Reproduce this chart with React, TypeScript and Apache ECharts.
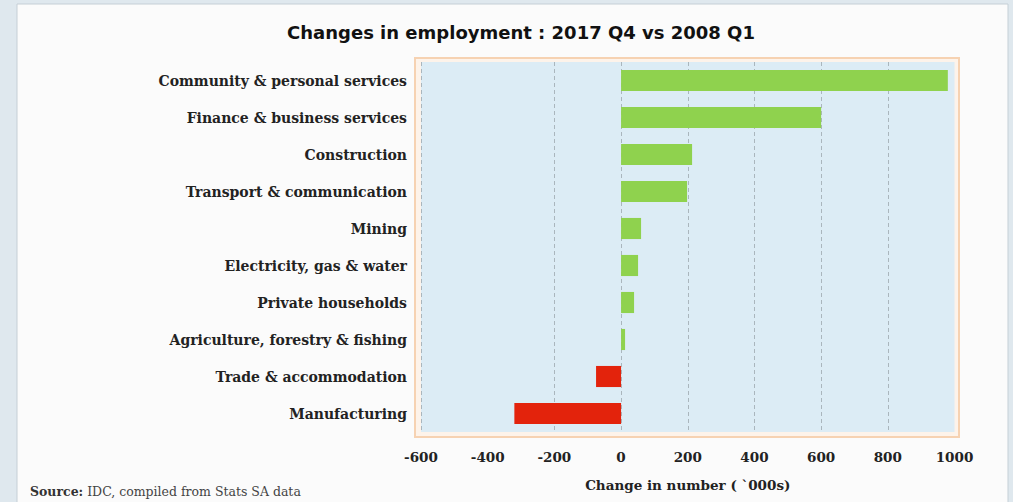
import React, { useEffect, useRef } from "react";
import * as echarts from "echarts";

const categories = [
  "Community & personal services",
  "Finance & business services",
  "Construction",
  "Transport & communication",
  "Mining",
  "Electricity, gas & water",
  "Private households",
  "Agriculture, forestry & fishing",
  "Trade & accommodation",
  "Manufacturing",
];
const changes = [980, 600, 213, 198, 60, 51, 39, 12, -75, -320];
const xTicks = { min: -600, max: 1000, interval: 200 };
const titleText = "Changes in employment : 2017 Q4 vs 2008 Q1";
const axisName = "Change in number ( `000s)";
const sourceLabel = "Source";
const sourceText = " IDC, compiled from Stats SA data";

const GREEN = "#8fd24e";
const RED = "#e3230c";

export default function App() {
  const ref = useRef<HTMLDivElement>(null);
  useEffect(() => {
    if (!ref.current) return;
    const chart = echarts.init(ref.current, undefined, { renderer: "svg" });
    const serif = "DejaVu Serif";
    const grid = "#aab6bd";
    chart.setOption({
      animation: false,
      backgroundColor: "#dfe8ee",
      title: {
        text: titleText,
        left: 516,
        textAlign: "center",
        top: 18,
        textStyle: {
          fontFamily: "DejaVu Sans",
          fontWeight: "bold",
          fontSize: 18,
          color: "#111",
        },
      },
      graphic: [
        {
          type: "rect",
          z: -10,
          shape: { x: 17, y: 4, width: 991, height: 500 },
          style: { fill: "#fbfbfb", stroke: "#c5cfd6", lineWidth: 1 },
        },
        {
          type: "rect",
          z: -5,
          shape: { x: 415, y: 58, width: 544, height: 379 },
          style: { fill: "#fdf3ea", stroke: "#f6d2b2", lineWidth: 2 },
        },
        {
          type: "text",
          left: 30,
          top: 485,
          style: {
            text: "{b|" + sourceLabel + ":}{n|" + sourceText + "}",
            rich: {
              b: { fontFamily: serif, fontSize: 12.5, fontWeight: "bold", fill: "#333" },
              n: { fontFamily: serif, fontSize: 12.5, fill: "#444" },
            },
          },
        },
      ],
      grid: {
        left: 421,
        right: 58.5,
        top: 62,
        bottom: 70,
        show: true,
        backgroundColor: "#dcecf5",
        borderWidth: 0,
      },
      xAxis: {
        type: "value",
        min: xTicks.min,
        max: xTicks.max,
        interval: xTicks.interval,
        name: axisName,
        nameLocation: "middle",
        nameGap: 46,
        nameTextStyle: {
          fontFamily: serif,
          fontWeight: "bold",
          fontSize: 13.5,
          color: "#222",
        },
        axisLine: { show: false },
        axisTick: { show: false },
        axisLabel: {
          margin: 18,
          fontFamily: serif,
          fontWeight: "bold",
          fontSize: 13.5,
          color: "#222",
          formatter: (v: number) => String(v),
        },
        splitLine: {
          show: true,
          showMaxLine: false,
          lineStyle: {
            color: [grid, "transparent", grid, grid, grid, grid, grid, grid, grid],
            width: 1,
            type: [4, 3],
          },
        },
      },
      yAxis: {
        type: "category",
        data: categories,
        inverse: true,
        axisLine: { show: false, onZero: false },
        axisTick: { show: false },
        axisLabel: {
          margin: 14,
          fontFamily: serif,
          fontWeight: "bold",
          fontSize: 14,
          color: "#222",
        },
      },
      series: [
        {
          type: "bar",
          data: changes.map((v) => ({
            value: v,
            itemStyle: { color: v >= 0 ? GREEN : RED },
          })),
          barWidth: "57%",
        },
      ],
    });
    return () => chart.dispose();
  }, []);
  return (
    <div
      ref={ref}
      style={{ position: "absolute", left: 0, top: 0, width: 1013, height: 502 }}
    />
  );
}
